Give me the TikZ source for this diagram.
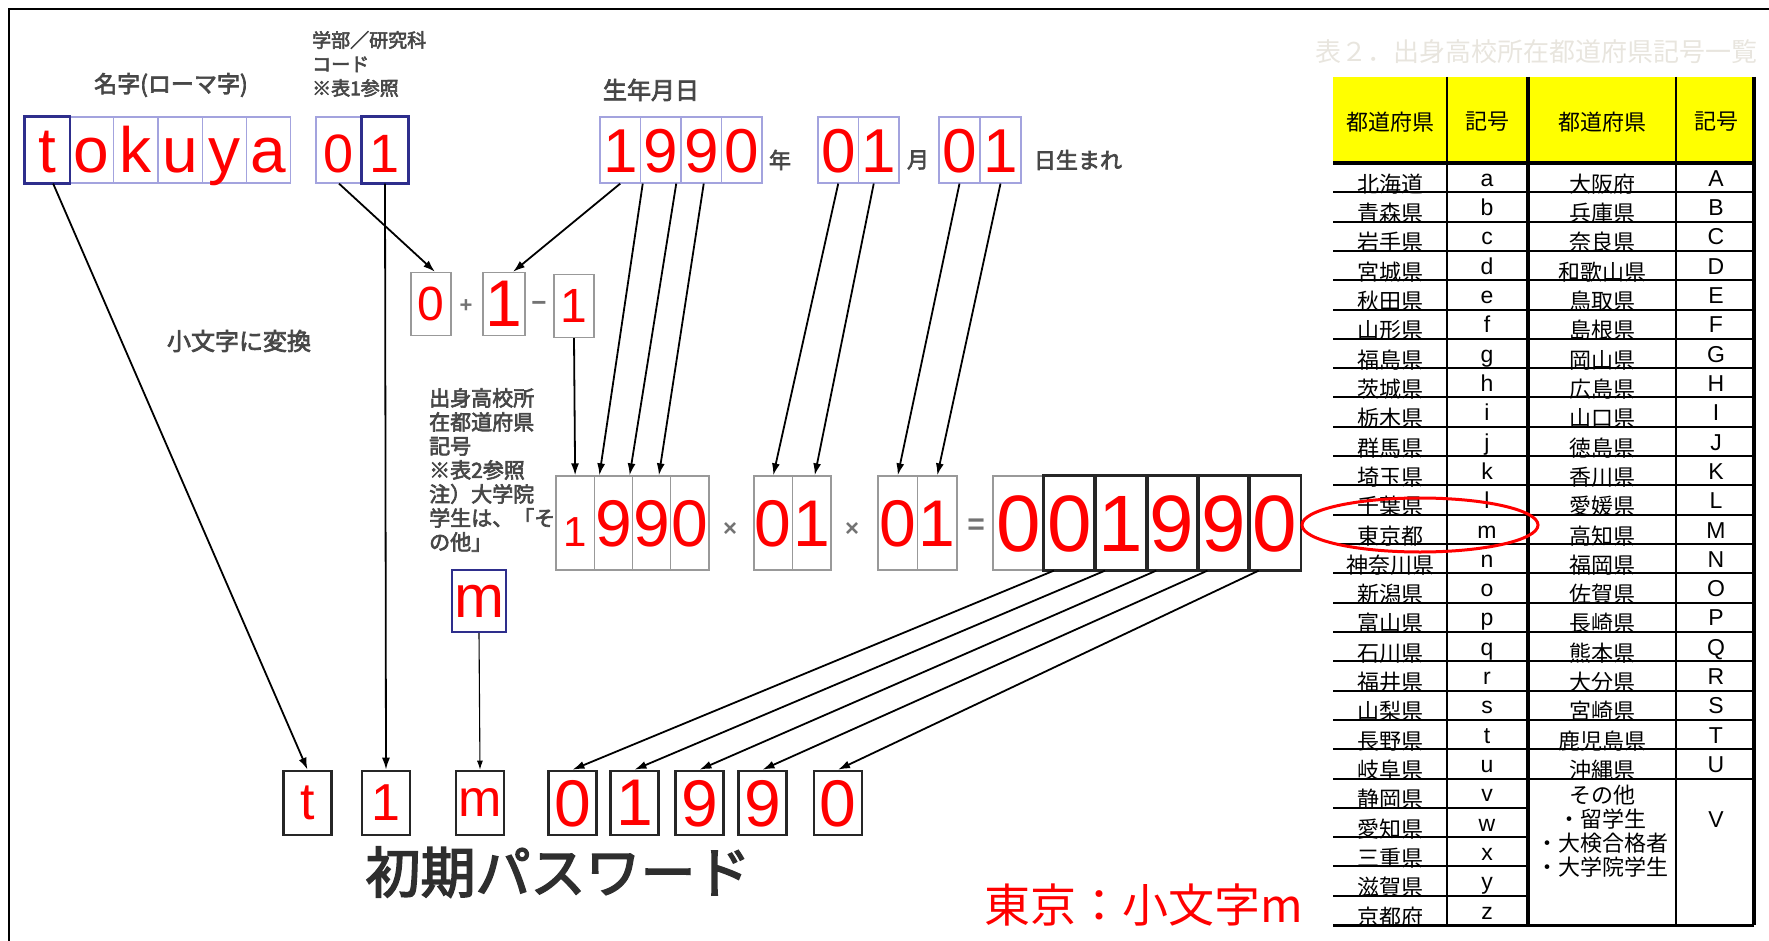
\documentclass[tikz,border=0pt]{standalone}
\usepackage{fontspec}
\setmainfont{Liberation Sans}
\newfontfamily\jpf{Noto Sans CJK JP}
\newfontfamily\jpb{Noto Sans CJK JP}[FakeBold=3]
\usetikzlibrary{arrows.meta}
\definecolor{boxlav}{rgb}{0.64,0.64,0.87}
\definecolor{boxnavy}{rgb}{0.18,0.18,0.55}
\definecolor{tabyellow}{rgb}{1,1,0}
\definecolor{faint}{rgb}{0.91,0.90,0.87}
\tikzset{
    cell/.style={rectangle, inner sep=0pt, text=red, text depth=0pt, font=\fontsize{#1}{#1}\selectfont},
    cell/.default=64,
    lite/.style={draw=boxlav, line width=1.2pt},
    navybox/.style={draw=boxnavy, line width=2.4pt},
    greybox/.style={draw=black!40, line width=1.3pt},
    blackbox/.style={draw=black!85, line width=2.6pt},
    lbl/.style={inner sep=0pt, text=black!72, font=\jpb\fontsize{#1}{24}\selectfont},
    lbl/.default=21,
    op/.style={inner sep=0pt, text=black!55, font=\bfseries\fontsize{#1}{#1}\selectfont},
    op/.default=22,
    conn/.style={-{Latex[length=12pt,width=8pt]}, line width=1.8pt},
    thead/.style={inner sep=0pt, font=\jpf\fontsize{22}{22}\selectfont},
    tpref/.style={inner sep=0pt, anchor=base, font=\jpf\fontsize{22}{24}\selectfont},
    tsym/.style={inner sep=0pt, anchor=base, font=\fontsize{23}{23}\selectfont},
}
\begin{document}
\begin{tikzpicture}[x=1pt, y=-1pt]
        \useasboundingbox (0,0) rectangle (1769,941);
        \draw[line width=1.5pt] (9,941) -- (9,9) -- (1769,9);

        \node[lbl=23] (lblname) at (171,85) {名字(ローマ字)};
        \node[lbl=19, align=left, anchor=west] (lbldept) at (312,64) {学部／研究科\\コード\\※表1参照};
        \node[lbl=24] (lblbirth) at (651,90) {生年月日};
        \node[lbl=22] (lblyear) at (780,160) {年};
        \node[lbl=22] (lblmonth) at (918,160) {月};
        \node[lbl=22] (lblday) at (1078,160) {日生まれ};
        \node[lbl=24] (lblconv) at (239,341) {小文字に変換};
        \node[lbl=21, align=left, anchor=north west] (lblpref) at (429,388) {出身高校所\\在都道府県\\記号\\※表2参照\\注）大学院\\学生は、「そ\\の他」};

        \foreach \ch [count=\i] in {t,o,k,u,y,a}
            \node[cell, lite, minimum width=44.3, minimum height=66, text height=46] (nm\i) at (2.85+44.3*\i,150) {\ch};
        \draw[navybox] (nm1.south west) rectangle (nm1.north east);
        \foreach \ch [count=\i] in {0,1}
            \node[cell=54, lite, minimum width=46, minimum height=66, text height=46] (dp\i) at (293+46*\i,150) {\ch};
        \draw[navybox] (dp2.south west) rectangle (dp2.north east);
        \foreach \ch [count=\i] in {1,9,9,0}
            \node[cell=62, lite, minimum width=40.5, minimum height=66, text height=46] (by\i) at (579.75+40.5*\i,150) {\ch};
        \foreach \ch [count=\i] in {0,1} {
            \node[cell=62, lite, minimum width=40.5, minimum height=66, text height=46] (bm\i) at (797.75+40.5*\i,150) {\ch};
            \node[cell=62, lite, minimum width=41, minimum height=66, text height=46] (bd\i) at (918.5+41*\i,150) {\ch};
        }

        \node[cell=48, greybox, minimum width=40, minimum height=63] (c1) at (431,304) {0};
        \node[op] (plus) at (466,306) {+};
        \node[cell=66, greybox, minimum width=42, minimum height=63] (c2) at (504,304) {1};
        \node[op=26] (minus) at (539,306) {−};
        \node[cell=48, greybox, minimum width=40, minimum height=63] (c3) at (574,306) {1};

        \foreach \ch/\s [count=\i] in {1/42,9/66,9/66,0/66}
            \node[cell=\s, greybox, minimum width=38.25, minimum height=94, text height=47.3] (my\i) at (536.875+38.25*\i,523) {\ch};
        \node[op=24] (times1) at (730,530) {×};
        \foreach \ch [count=\i] in {0,1} {
            \node[cell=66, greybox, minimum width=38.5, minimum height=94, text height=47.3] (mm\i) at (734.75+38.5*\i,523) {\ch};
            \node[cell=66, greybox, minimum width=39.5, minimum height=94, text height=47.3] (md\i) at (858.25+39.5*\i,523) {\ch};
        }
        \node[op=24] (times2) at (852,530) {×};
        \node[op=30] (equals) at (976,527) {=};
        \foreach \ch [count=\i] in {0,0,1,9,9,0}
            \node[cell=80, greybox, minimum width=51.2, minimum height=94, text height=57.3] (rs\i) at (967.4+51.2*\i,523) {\ch};
        \foreach \i in {2,...,6}
            \draw[blackbox] (rs\i.south west) rectangle (rs\i.north east);

        \node[cell=60, navybox, minimum width=54, minimum height=62] (pref) at (479,601) {m};

        \foreach \ch/\x/\s [count=\i] in {t/307.5/52,1/386/52,m/480/52,0/572.5/66,1/634.5/66,9/699.5/66,9/762.5/66,0/838/66}
            \node[cell=\s, blackbox, minimum width=48, minimum height=64] (pw\i) at (\x,803) {\ch};
        \node[lbl=55, text=black!82] (lblpw) at (558,872) {初期パスワード};
        \node[text=red, inner sep=0pt, font=\jpf\fontsize{46}{46}\selectfont] (note) at (1144,905) {東京：小文字m};

        \draw[conn] ([xshift=6]nm1.south) -- (pw1.north);
        \draw[conn] (dp2.south) -- (pw2.north);
        \draw[conn] (dp1.south) -- ([xshift=4]c1.north);
        \draw[conn] (by1.south) -- ([xshift=9]c2.north);
        \draw[conn] (c3.south) -- (my1.north);
        \draw[conn] ([xshift=-18]by2.south) -- ([xshift=-14]my2.north);
        \draw[conn] ([xshift=-25]by3.south) -- ([xshift=-22]my3.north);
        \draw[conn] ([xshift=-38]by4.south) -- ([xshift=-31]my4.north);
        \draw[conn] (bm1.south) -- (mm1.north);
        \draw[conn] ([xshift=-5]bm2.south) -- ([xshift=3]mm2.north);
        \draw[conn] (bd1.south) -- (md1.north);
        \draw[conn] (bd2.south) -- (md2.north);
        \draw[-{Latex[length=9pt,width=6pt]}, line width=1.1pt] (pref.south) -- (pw3.north);
        \foreach \i/\j in {2/4,3/5,4/6,5/7,6/8}
            \draw[conn] ([xshift=-16]rs\i.south) -- (pw\j.north);

        \node[text=faint, inner sep=0pt, font=\jpf\fontsize{26}{26}\selectfont] (tabtitle) at (1536,52) {表２．出身高校所在都道府県記号一覧};
        \fill[tabyellow] (1333,77) rectangle (1754,163);
        \node[thead] (h1) at (1390,122) {都道府県};
        \node[thead] (h2) at (1487,122) {記号};
        \node[thead] (h3) at (1602,122) {都道府県};
        \node[thead] (h4) at (1716,122) {記号};
        \foreach \p/\s [count=\r] in {北海道/a,青森県/b,岩手県/c,宮城県/d,秋田県/e,山形県/f,福島県/g,茨城県/h,栃木県/i,群馬県/j,埼玉県/k,千葉県/l,東京都/m,神奈川県/n,新潟県/o,富山県/p,石川県/q,福井県/r,山梨県/s,長野県/t,岐阜県/u,静岡県/v,愛知県/w,三重県/x,滋賀県/y,京都府/z} {
            \node[tpref] (lp\r) at (1390,163+29.31*\r) {\p};
            \node[tsym] (ls\r) at (1487,157+29.31*\r) {\s};
            \draw[line width=2pt] (1333,163+29.31*\r) -- (1528,163+29.31*\r);
        }
        \foreach \p/\s [count=\r] in {大阪府/A,兵庫県/B,奈良県/C,和歌山県/D,鳥取県/E,島根県/F,岡山県/G,広島県/H,山口県/I,徳島県/J,香川県/K,愛媛県/L,高知県/M,福岡県/N,佐賀県/O,長崎県/P,熊本県/Q,大分県/R,宮崎県/S,鹿児島県/T,沖縄県/U} {
            \node[tpref] (rp\r) at (1602,163+29.31*\r) {\p};
            \node[tsym] (rs\r) at (1716,157+29.31*\r) {\s};
            \draw[line width=2pt] (1528,163+29.31*\r) -- (1754,163+29.31*\r);
        }
        \node[tpref, anchor=center, align=center] (rpother) at (1602,831) {その他\\・留学生\\・大検合格者\\・大学院学生};
        \node[tsym, anchor=center] (rsother) at (1716,820) {V};
        \draw[line width=3.5pt] (1333,163) -- (1754,163);
        \draw[line width=3pt] (1333,925) -- (1754,925);
        \foreach \x/\w in {1447/2.5,1528/4,1676/2.5,1754/4}
            \draw[line width=\w pt] (\x,77) -- (\x,925);

        \draw[red, line width=3pt] (1420,525) ellipse [x radius=118, y radius=27];
\end{tikzpicture}
\end{document}
